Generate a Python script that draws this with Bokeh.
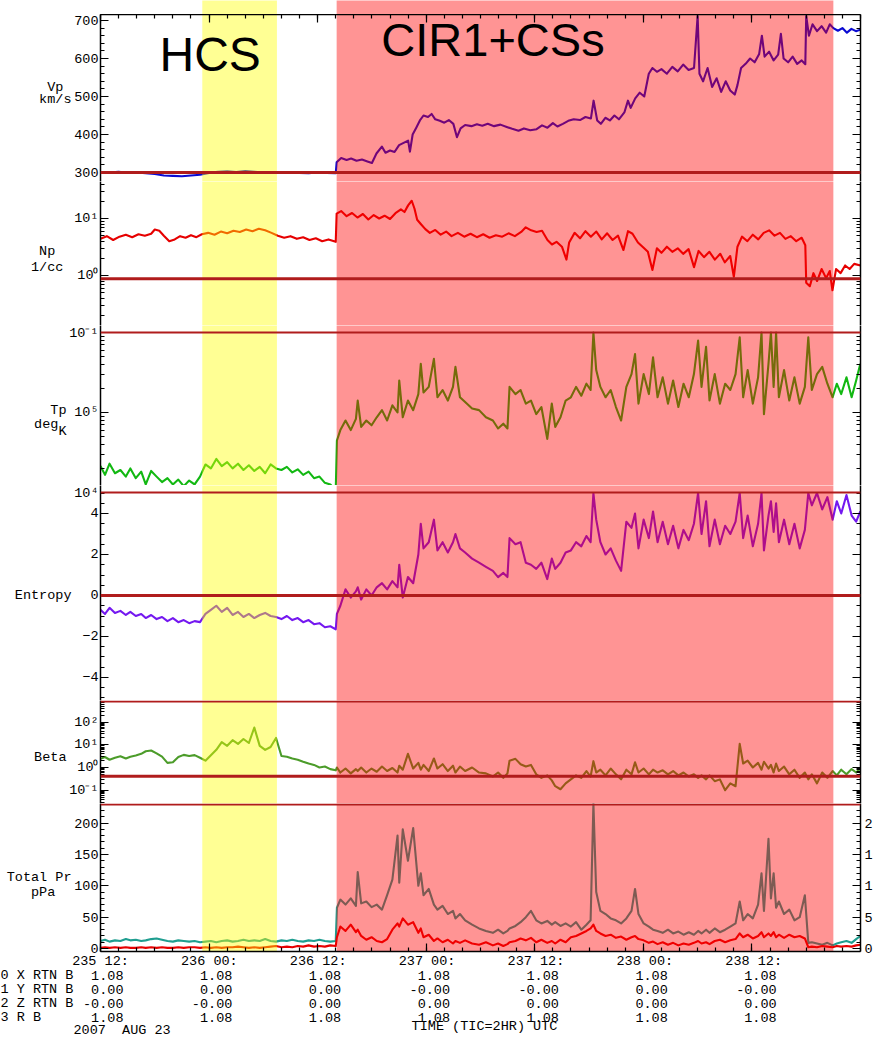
import math
from bokeh.plotting import figure
from bokeh.layouts import column
from bokeh.models import (Range1d, FixedTicker, LinearAxis, LogAxis, Span, Label,
                          ColumnDataSource, BasicTickFormatter, CustomJSTickFormatter, AllLabels)
from bokeh.embed import file_html
from bokeh.resources import INLINE

# ======================= DATA =======================
# time axis: hours after 2007 day-of-year 235 12:00 UT
x_start, x_end = 0.0, 84.0
x_major = [0, 12, 24, 36, 48, 60, 72]
x_major_labels = ["235 12:", "236 00:", "236 12:", "237 00:", "237 12:", "238 00:", "238 12:"]
x_minor = list(range(0, 86, 2))

region_names = ["HCS", "CIR1+CSs"]
region_start = [11.25, 26.1]
region_end = [19.5, 81.0]
region_color = ["#ffff00", "#ff0000"]

# Vp (km/s)
vp_pts = [(0,301),(1,300),(2,302),(3,299),(4,300),(5,298),(6,296),(7,292),(8,291),(9,290),(10,292),(11,294),
(12,299),(13,302),(14,303),(15,301),(16,304),(17,302),(18,300),(19,299),(20,300),(21,301),(22,299),(23,298),
(24,300),(25,299),(26,298),(26.1,327),(26.6,338),(27.2,333),(27.7,337),(28.3,331),(28.9,334),(29.5,329),
(30.0,325),(30.5,350),(31.1,368),(31.5,352),(32.0,358),(32.5,354),(33.0,372),(33.5,378),(34.0,384),(34.2,355),
(34.5,400),(34.9,418),(35.3,437),(35.7,450),(36.2,446),(36.6,454),(37.0,440),(37.5,436),(38.0,431),(38.5,438),
(39.0,428),(39.4,393),(39.8,416),(40.3,425),(41.0,422),(41.6,427),(42.2,423),(42.8,428),(43.5,422),(44.2,426),
(44.9,420),(45.5,415),(46.2,410),(46.8,416),(47.5,411),(48.2,414),(48.8,424),(49.4,418),(50.0,430),(50.5,421),
(51.1,428),(51.7,436),(52.3,440),(53.0,438),(53.6,446),(54.2,442),(54.5,489),(54.9,437),(55.3,428),(55.8,444),
(56.3,437),(56.8,450),(57.3,440),(57.9,458),(58.3,489),(58.6,470),(59.1,495),(59.6,510),(60.1,500),(60.6,560),
(61.0,575),(61.5,565),(62.0,572),(62.6,560),(63.2,578),(63.8,566),(64.4,584),(65.0,570),(65.6,575),(66.0,712),
(66.2,560),(66.6,540),(67.1,575),(67.6,525),(68.1,548),(68.6,512),(69.1,540),(69.6,516),(70.1,505),(70.4,530),
(70.8,575),(71.3,586),(71.8,600),(72.3,590),(72.8,612),(73.1,660),(73.4,605),(73.9,618),(74.4,595),(74.9,610),
(75.2,665),(75.5,600),(76.0,590),(76.5,605),(77.0,586),(77.5,595),(77.9,585),(78.0,712),(78.3,660),(78.7,690),
(79.2,672),(79.7,685),(80.2,668),(80.6,690),(81.0,680),(81.5,673),(82.0,680),(82.5,668),(83.0,678),(83.5,672),
(84.0,676)]

# Np (1/cc)
np_pts = [(0,4.4),(0.7,4.9),(1.4,4.2),(2.1,4.8),(2.8,5.2),(3.5,4.7),(4.2,5.3),(4.9,5.0),(5.6,5.4),(6.0,6.4),
(6.5,6.1),(7.0,5.0),(7.6,4.0),(8.2,4.3),(8.8,4.9),(9.4,4.6),(10.0,5.1),(10.6,4.7),(11.2,5.3),(11.9,5.6),
(12.6,5.2),(13.3,5.9),(14.0,5.5),(14.7,6.1),(15.4,5.8),(16.1,6.4),(16.8,6.0),(17.5,6.6),(18.2,6.2),(18.9,5.6),
(19.6,5.0),(20.3,4.6),(21.0,4.9),(21.7,4.4),(22.4,4.7),(23.1,4.2),(23.8,4.5),(24.5,4.0),(25.2,4.3),(26.0,3.9),
(26.1,12.2),(26.6,13.5),(27.2,11.0),(27.8,12.5),(28.4,10.4),(29.0,12.0),(29.6,9.6),(30.2,11.5),(30.8,10.0),
(31.4,11.2),(32.0,9.8),(32.6,12.4),(33.2,14.5),(33.6,13.0),(34.0,17.0),(34.4,20.5),(34.7,15.0),(35.0,9.5),
(35.4,8.0),(35.9,6.5),(36.4,5.6),(37.0,6.3),(37.6,5.2),(38.2,5.9),(38.8,4.9),(39.5,5.6),(40.2,4.8),(40.9,5.4),
(41.6,4.7),(42.3,5.3),(43.0,4.6),(43.7,5.1),(44.4,4.8),(45.1,5.5),(45.8,4.9),(46.5,5.8),(47.0,7.0),(47.6,6.2),
(48.2,5.8),(48.8,6.1),(49.4,4.2),(49.9,3.5),(50.4,3.9),(51.0,3.2),(51.5,1.9),(51.8,3.8),(52.4,5.6),(53.0,4.5),
(53.6,6.0),(54.2,4.8),(54.8,5.9),(55.4,4.3),(56.0,5.5),(56.6,4.2),(57.2,5.0),(57.8,2.8),(58.3,6.0),(58.8,5.4),
(59.4,3.8),(60.0,3.1),(60.5,2.6),(61.0,1.25),(61.5,3.0),(62.0,2.5),(62.6,3.2),(63.2,2.6),(63.8,3.0),(64.4,2.4),
(65.0,2.9),(65.6,1.4),(66.1,2.7),(66.7,2.1),(67.3,2.6),(67.9,1.9),(68.5,2.4),(69.0,1.7),(69.6,2.2),(70.0,0.95),
(70.4,3.2),(70.9,4.8),(71.5,4.0),(72.1,5.2),(72.7,4.3),(73.3,5.6),(73.9,6.2),(74.5,5.0),(75.1,5.6),(75.7,4.4),
(76.3,4.9),(76.9,4.0),(77.5,4.6),(77.9,3.4),(78.0,0.75),(78.4,0.65),(78.8,1.1),(79.2,0.8),(79.7,1.3),(80.2,0.9),
(80.6,1.2),(80.9,0.55),(81.3,1.3),(81.8,1.1),(82.3,1.5),(82.8,1.3),(83.3,1.6),(84.0,1.5)]

# shared sample times for Tp, Entropy, Beta and pressures
t_pre = [0, 0.5, 1.0, 1.6, 2.2, 2.8, 3.3, 3.9, 4.5, 5.0, 5.6, 6.2, 6.8, 7.4, 8.0, 8.6, 9.2, 9.8, 10.4, 11.0,
         11.6, 12.2, 12.8, 13.4, 14.0, 14.6, 15.2, 15.8, 16.4, 17.0, 17.6, 18.2, 18.8, 19.4, 20.0, 20.6, 21.2,
         21.8, 22.4, 23.0, 23.6, 24.2, 24.8, 25.4, 26.0]
t_cir = [26.13, 26.51, 27.08, 27.66, 28.23, 28.43, 28.81, 29.38, 29.96, 30.53, 31.11, 31.68, 32.26, 32.83,
         33.02, 33.41, 33.98, 34.56, 35.13, 35.40, 35.70, 36.28, 36.85, 37.24, 37.81, 38.39, 38.96, 39.23,
         39.73, 40.30, 41.07, 41.84, 42.60, 43.37, 43.94, 44.52, 44.98, 45.21, 45.86, 46.43, 47.01, 47.58,
         48.16, 48.73, 49.38, 49.88, 50.26, 50.84, 51.41, 51.99, 52.56, 53.14, 53.71, 54.17, 54.48, 54.79,
         55.25, 55.82, 56.39, 56.97, 57.54, 58.12, 58.69, 59.08, 59.46, 60.03, 60.61, 61.07, 61.57, 62.14,
         62.72, 63.29, 63.87, 64.44, 65.02, 65.59, 66.05, 66.43, 66.93, 67.31, 67.89, 68.46, 69.04, 69.61,
         70.19, 70.65, 71.03, 71.53, 72.10, 72.68, 73.06, 73.33, 73.83, 74.10, 74.40, 74.67, 74.98, 75.55,
         76.13, 76.70, 77.28, 77.85, 78.23, 78.62, 79.19, 79.77, 80.34, 80.92, 81.38, 81.87, 82.45, 83.02,
         83.52, 83.98]

# Tp (K)
tp_pre = [21400, 16600, 22900, 17400, 19100, 15800, 20000, 15100, 18200, 12600, 18600, 15800, 13500, 15100,
          12600, 14500, 12000, 14100, 12600, 15800, 22400, 20000, 26300, 21400, 24000, 20000, 22900, 19100,
          21900, 18600, 20900, 17400, 22400, 20000, 19100, 20900, 17800, 19500, 16600, 18200, 15100, 15800,
          13200, 12600, 10700]
tp_cir = [44700, 60300, 79400, 60300, 83200, 141000, 66100, 79400, 69200, 87100, 107000, 79400, 123000,
          100000, 251000, 87100, 141000, 107000, 170000, 407000, 178000, 209000, 468000, 155000, 191000,
          141000, 209000, 372000, 155000, 135000, 112000, 107000, 87100, 79400, 63100, 72400, 63100, 209000,
          170000, 191000, 129000, 141000, 95500, 117000, 46800, 129000, 66100, 87100, 141000, 155000, 209000,
          162000, 229000, 191000, 1000000, 339000, 209000, 155000, 191000, 117000, 79400, 209000, 302000,
          537000, 129000, 302000, 170000, 490000, 155000, 275000, 129000, 251000, 117000, 229000, 155000,
          302000, 794000, 209000, 661000, 141000, 302000, 129000, 229000, 191000, 302000, 871000, 155000,
          339000, 129000, 275000, 1000000, 95500, 407000, 1000000, 209000, 1000000, 155000, 339000, 141000,
          275000, 129000, 209000, 871000, 191000, 302000, 372000, 229000, 155000, 229000, 170000, 275000,
          155000, 251000, 407000]

# Entropy
s_pre = [-0.7, -0.9, -0.6, -0.85, -0.75, -0.95, -0.8, -1.0, -0.9, -1.1, -0.95, -1.15, -1.05, -1.25, -1.1,
         -1.3, -1.2, -1.35, -1.25, -1.3, -0.9, -0.7, -0.5, -0.8, -0.6, -0.95, -0.8, -1.05, -0.9, -1.1, -0.95,
         -0.85, -1.0, -1.05, -1.15, -1.0, -1.2, -1.1, -1.3, -1.2, -1.4, -1.35, -1.55, -1.5, -1.65]
s_cir = [-0.9, -0.5, 0.3, -0.1, 0.2, 0.4, -0.2, 0.3, 0.0, 0.4, 0.6, 0.3, 0.7, 0.4, 1.5, -0.1, 0.9, 0.6, 2.0,
         3.5, 2.3, 2.6, 3.7, 2.2, 2.6, 2.1, 2.6, 3.0, 2.3, 2.1, 1.8, 1.6, 1.4, 1.2, 0.9, 1.1, 0.9, 2.8, 2.5,
         2.6, 1.6, 1.5, 1.3, 1.6, 0.8, 1.8, 1.3, 1.6, 2.1, 2.2, 2.6, 2.4, 2.9, 2.6, 5.0, 3.7, 2.6, 2.0, 2.3,
         1.7, 1.2, 3.6, 3.3, 4.0, 2.3, 3.7, 2.8, 4.1, 2.6, 3.6, 2.5, 3.4, 2.3, 3.2, 2.7, 3.5, 5.0, 3.0, 4.6,
         2.4, 3.7, 2.5, 3.4, 3.0, 3.6, 5.0, 2.8, 3.9, 2.4, 3.5, 5.0, 2.2, 3.9, 4.6, 3.1, 4.5, 2.6, 3.7, 2.5,
         3.5, 2.3, 3.2, 5.0, 4.4, 5.0, 4.2, 4.8, 3.7, 4.6, 4.0, 4.9, 3.9, 3.6, 4.1]

# Beta
beta_pre = [2.4, 2.9, 2.2, 2.7, 3.1, 2.5, 3.0, 3.4, 4.0, 5.2, 5.6, 4.2, 3.0, 1.6, 1.7, 2.9, 3.6, 3.2, 3.5,
            2.7, 2.0, 3.5, 6.0, 13, 9, 16, 11, 18, 12, 58, 9, 6, 8, 20, 3.2, 3.0, 2.5, 2.2, 1.8, 1.5, 1.3,
            1.0, 1.1, 0.85, 0.75]
beta_cir = [1.0, 0.6, 0.9, 0.55, 0.85, 0.7, 1.0, 0.6, 0.9, 0.65, 1.1, 0.7, 0.95, 0.6, 1.2, 0.8, 4.0, 0.9,
            1.6, 0.8, 1.3, 0.7, 2.5, 0.9, 1.4, 0.7, 1.2, 0.6, 1.1, 0.7, 1.0, 0.6, 0.55, 0.4, 0.6, 0.35,
            0.55, 2.0, 2.4, 1.4, 1.1, 1.3, 0.5, 0.35, 0.45, 0.27, 0.15, 0.11, 0.2, 0.3, 0.45, 0.35, 0.7,
            0.4, 1.9, 0.6, 0.8, 0.45, 0.9, 0.5, 0.3, 0.8, 0.5, 1.7, 0.6, 0.9, 0.5, 0.8, 0.6, 0.75, 0.5, 0.7,
            0.45, 0.6, 0.4, 0.5, 0.35, 0.45, 0.3, 0.45, 0.25, 0.3, 0.1, 0.2, 0.15, 11, 1.5, 2.0, 1.0, 1.6,
            0.8, 1.8, 0.9, 1.3, 0.6, 1.5, 0.7, 1.1, 0.5, 0.8, 0.35, 0.6, 0.3, 0.5, 0.2, 0.6, 0.35, 0.7,
            0.45, 0.8, 0.5, 0.85, 0.6, 0.9]

# Total pressure (pPa) and the second (red) pressure trace
ptot_pre = [12, 14, 11, 13, 12, 15, 13, 14, 12, 13, 15, 16, 14, 12, 11, 13, 12, 11, 12, 10, 11, 12, 10, 12,
            13, 11, 12, 14, 12, 13, 12, 15, 12, 11, 13, 12, 14, 12, 11, 13, 12, 14, 12, 11, 12]
ptot_cir = [65, 78, 70, 80, 68, 122, 72, 75, 66, 70, 62, 85, 110, 180, 105, 190, 140, 192, 100, 120, 85, 95,
            70, 62, 68, 55, 60, 48, 55, 45, 38, 32, 28, 25, 30, 24, 28, 32, 36, 42, 50, 60, 45, 40, 44, 38,
            42, 36, 40, 35, 42, 30, 38, 45, 231, 90, 60, 55, 48, 45, 40, 48, 60, 95, 55, 40, 35, 30, 28, 25,
            30, 24, 27, 22, 26, 22, 28, 24, 30, 25, 32, 26, 30, 35, 40, 75, 45, 55, 48, 70, 120, 60, 175, 80,
            120, 65, 75, 55, 62, 45, 50, 85, 9, 10, 8, 6, 9, 5, 8, 10, 12, 9, 15, 20]
ppl_pre = [1, 2, 1, 2, 1, 2, 1, 1, 2, 1, 2, 1, 2, 1, 1, 2, 1, 2, 2, 1, 2, 1, 2, 1, 2, 2, 3, 2, 1, 2, 1, 2,
           3, 4, 2, 3, 2, 4, 3, 5, 3, 4, 3, 5, 4]
ppl_cir = [18, 35, 28, 38, 26, 30, 20, 14, 18, 12, 10, 15, 30, 40, 35, 48, 38, 42, 25, 32, 18, 22, 12, 16,
           10, 14, 8, 12, 9, 13, 8, 6, 10, 5, 8, 4, 7, 10, 12, 16, 13, 17, 10, 14, 9, 12, 8, 14, 10, 18, 20,
           24, 28, 32, 38, 28, 24, 20, 22, 17, 19, 14, 18, 20, 15, 13, 9, 11, 7, 10, 6, 9, 5, 8, 6, 9, 12, 8,
           10, 7, 12, 14, 10, 13, 15, 24, 18, 22, 16, 20, 26, 18, 24, 20, 26, 18, 22, 17, 22, 18, 20, 16, 2,
           3, 2, 4, 3, 2, 4, 3, 4, 3, 5, 6]

# reference lines
vp_ref, np_ref, s_ref, beta_ref = 300, 0.88, 0.0, 0.41

# text block under the time axis
coord_rows = ["0 X RTN B", "1 Y RTN B", "2 Z RTN B", "3 R B"]
coord_vals = [["1.08"] * 7,
              ["0.00", "0.00", "0.00", "-0.00", "-0.00", "0.00", "-0.00"],
              ["-0.00", "-0.00", "0.00", "0.00", "0.00", "0.00", "0.00"],
              ["1.08"] * 7]
date_text = "2007  AUG 23"
time_title = "TIME (TIC=2HR) UTC"

for a, b in [(t_pre, tp_pre), (t_pre, s_pre), (t_pre, beta_pre), (t_pre, ptot_pre), (t_pre, ppl_pre),
             (t_cir, tp_cir), (t_cir, s_cir), (t_cir, beta_cir), (t_cir, ptot_cir), (t_cir, ppl_cir)]:
    assert len(a) == len(b), (len(a), len(b))

# ======================= LAYOUT =======================
W, H = 875, 1038
L_PX, R_PX = 100, 862
PXH = (R_PX - L_PX) / (x_end - x_start)
BL = L_PX
BR = W - R_PX
MONO = "Liberation Mono"
FS = "13.5px"
NB = "\u00a0"
LW = 2.1

VP_C, NP_C, TP_C, S_C = "#0a0ad2", "#e60000", "#12b812", "#7418f0"
B_C, PT_C, PR_C, REF_C = "#4c9c2a", "#1f9e90", "#e60000", "#b01c1c"

xr = Range1d(x_start, x_end)


def hx(px):
    return x_start + (px - L_PX) / PXH


# pixel extent of every panel and the value range it covers
P_VP = dict(top=14, bot=181, lo=276.3, hi=715.8, log=False)
P_NP = dict(top=181, bot=325, lo=0.1327, hi=44.6, log=True)
P_TP = dict(top=325, bot=485, lo=12230.0, hi=1.223e6, log=True)
P_S = dict(top=485, bot=700, lo=-5.122, hi=5.366, log=False)
P_B = dict(top=700, bot=803, lo=0.02594, hi=895.0, log=True)
P_PT = dict(top=803, bot=951, lo=-4.78, hi=231.3, log=False)
PT_PAD = 3   # blank strip under the pressure panel


def val(P, py):
    f = (P["bot"] - py) / (P["bot"] - P["top"])
    if P["log"]:
        a, b = math.log10(P["lo"]), math.log10(P["hi"])
        return 10 ** (a + f * (b - a))
    return P["lo"] + f * (P["hi"] - P["lo"])


def style_axis(ax, show):
    ax.axis_line_color = "black"
    ax.axis_line_width = 1.5
    ax.major_tick_line_color = "black"
    ax.minor_tick_line_color = "black"
    ax.major_tick_line_width = 1.2
    ax.minor_tick_line_width = 1.2
    ax.major_tick_in = 8
    ax.major_tick_out = 0
    ax.minor_tick_in = 4
    ax.minor_tick_out = 0
    ax.major_label_text_font = MONO
    ax.major_label_text_color = "black"
    ax.major_label_text_font_size = FS
    ax.major_label_standoff = 2 if show else 0
    ax.major_label_policy = AllLabels()
    ax.axis_label = None
    if not show:
        ax.formatter = CustomJSTickFormatter(code="return ''")


def make_fig(height, yr, log=False, xloc=None, yloc="left", bb=0):
    p = figure(width=W, height=height, x_range=xr, y_range=yr, title=None,
               y_axis_type="log" if log else "linear",
               x_axis_location=xloc, y_axis_location=yloc,
               output_backend="svg", toolbar_location=None,
               min_border_left=BL, min_border_right=BR, min_border_top=0, min_border_bottom=bb)
    p.outline_line_color = None
    p.xgrid.visible = False
    p.ygrid.visible = False
    p.background_fill_color = "white"
    p.border_fill_color = "white"
    return p


def panel(P, major, minor, overrides=None, xloc=None, right_labels=None, bb=0):
    p = make_fig(P["bot"] - P["top"] + bb, Range1d(P["lo"], P["hi"]), P["log"], xloc=xloc, bb=bb)
    ax = p.yaxis[0]
    ax.ticker = FixedTicker(ticks=major, minor_ticks=minor)
    ax.formatter = BasicTickFormatter()
    style_axis(ax, True)
    if overrides:
        ax.major_label_overrides = overrides
    cls = LogAxis if P["log"] else LinearAxis
    r = cls(ticker=FixedTicker(ticks=major, minor_ticks=minor))
    style_axis(r, False)
    if right_labels:
        r.major_label_overrides = right_labels
        r.major_label_standoff = 4
    p.add_layout(r, "right")
    if xloc is not None:
        xa = p.xaxis[0]
        xa.ticker = FixedTicker(ticks=x_major, minor_ticks=x_minor)
        style_axis(xa, False)
        xa.major_label_text_font_size = "0px"
    return p


def titles(p, P, items):
    """Panel title written as a second, tick-less left axis."""
    ticks = [val(P, py) for py, _ in items]
    cls = LogAxis if P["log"] else LinearAxis
    ax = cls(ticker=FixedTicker(ticks=ticks, minor_ticks=[]), formatter=BasicTickFormatter())
    ax.major_label_overrides = {t: s for t, (_, s) in zip(ticks, items)}
    ax.axis_line_color = None
    ax.major_tick_line_color = None
    ax.minor_tick_line_color = None
    ax.major_tick_in = 0
    ax.major_tick_out = 0
    ax.minor_tick_in = 0
    ax.minor_tick_out = 0
    ax.major_label_standoff = 0
    ax.major_label_text_font = MONO
    ax.major_label_text_font_size = FS
    ax.major_label_text_color = "black"
    ax.major_label_policy = AllLabels()
    p.add_layout(ax, "left")


def shade(p, P):
    if P["log"]:
        lo, hi = P["lo"] / 10, P["hi"] * 10
    else:
        lo, hi = P["lo"] - 1000, P["hi"] + 1000
    src = ColumnDataSource(dict(left=region_start, right=region_end, color=region_color))
    p.quad(left="left", right="right", bottom=lo, top=hi, fill_color="color",
           fill_alpha=0.42, line_color=None, source=src)


def span(p, loc, w):
    p.add_layout(Span(location=loc, dimension="width", line_color=REF_C, line_width=w))


def line(p, t, v, color):
    p.line(list(t), list(v), line_color=color, line_width=LW, line_join="round")


def txt(p, x, y, text, align="center", size=FS, font=MONO):
    p.add_layout(Label(x=x, y=y, text=text.replace(" ", NB), text_font=font, text_font_size=size,
                       text_align=align, text_baseline="middle", text_color="black"))


# --- top strip (shading above the top axis) ---
strip = make_fig(P_VP["top"], Range1d(0, 1), xloc=None, yloc=None)
shade(strip, dict(lo=0, hi=1, log=False))

# --- Vp ---
f_vp = panel(P_VP, [300, 400, 500, 600, 700], list(range(300, 720, 20)), xloc="above")
vt, vv = zip(*vp_pts)
line(f_vp, vt, vv, VP_C)
shade(f_vp, P_VP)
span(f_vp, vp_ref, 3)
titles(f_vp, P_VP, [(87, "Vp" + NB), (99, "km/s")])
f_vp.add_layout(Label(x=hx(210), y=val(P_VP, 54), text=region_names[0], text_font="Liberation Sans",
                      text_font_size="48px", text_align="center", text_baseline="middle", text_color="black"))
f_vp.add_layout(Label(x=hx(493.5), y=val(P_VP, 39), text=region_names[1], text_font="Liberation Sans",
                      text_font_size="47px", text_align="center", text_baseline="middle", text_color="black"))

# --- Np ---
dec_minor = lambda ds: [m * d for d in ds for m in range(2, 10)]
f_np = panel(P_NP, [1.0, 10.0], dec_minor([0.1, 1.0, 10.0]),
             overrides={1.0: "10\u2070", 10.0: "10\u00b9"})
nt, nv = zip(*np_pts)
line(f_np, nt, nv, NP_C)
shade(f_np, P_NP)
span(f_np, np_ref, 3)
titles(f_np, P_NP, [(251, "Np" + NB + NB), (267, "1/cc" + NB)])

# --- Tp ---
f_tp = panel(P_TP, [1e5, 1e6], dec_minor([1e4, 1e5]),
             overrides={1e5: "10\u2075", 1e6: "10\u207b\u00b9"})
line(f_tp, t_pre + t_cir, tp_pre + tp_cir, TP_C)
shade(f_tp, P_TP)
span(f_tp, val(P_TP, 332), 2)
titles(f_tp, P_TP, [(410, "Tp"), (424, "deg" + NB), (431, "K")])

# --- Entropy ---
s_top_tick = val(P_S, 492)
f_s = panel(P_S, [-4, -2, 0, 2, 4, s_top_tick], [i * 0.5 for i in range(-10, 11)],
            overrides={s_top_tick: "10\u2074"})
line(f_s, t_pre + t_cir, s_pre + s_cir, S_C)
shade(f_s, P_S)
span(f_s, s_top_tick, 2)
span(f_s, s_ref, 3)
titles(f_s, P_S, [(595, "Entropy")])

# --- Beta ---
f_b = panel(P_B, [0.1, 1.0, 10.0, 100.0], dec_minor([0.01, 0.1, 1.0, 10.0, 100.0]),
            overrides={0.1: "10\u207b\u00b9", 1.0: "10\u2070", 10.0: "10\u00b9", 100.0: "10\u00b2"})
line(f_b, t_pre + t_cir, beta_pre + beta_cir, B_C)
shade(f_b, P_B)
span(f_b, val(P_B, 701), 2)
span(f_b, beta_ref, 3)
titles(f_b, P_B, [(757, "Beta")])

# --- Total pressure ---
pt_major = [0, 50, 100, 150, 200]
f_pt = panel(P_PT, pt_major, list(range(0, 240, 10)), xloc="below",
             right_labels={v: str(v)[0] for v in pt_major}, bb=PT_PAD)
line(f_pt, t_pre + t_cir, ptot_pre + ptot_cir, PT_C)
line(f_pt, t_pre + t_cir, ppl_pre + ppl_cir, PR_C)
shade(f_pt, P_PT)
span(f_pt, val(P_PT, 804), 2)
titles(f_pt, P_PT, [(877, "Total Pr"), (892, "pPa" + NB + NB)])

# --- time labels and coordinate rows under the plot (own full-width frame) ---
txt_top = P_PT["bot"] + PT_PAD
f_txt = figure(width=W, height=H - txt_top, x_range=Range1d(hx(0), hx(W)), title=None,
               y_range=Range1d(H, txt_top), output_backend="svg", toolbar_location=None,
               x_axis_location=None, y_axis_location=None, min_border=0)
try:
    f_txt.frame_align = False
except Exception:
    pass
f_txt.outline_line_color = None
f_txt.xgrid.visible = False
f_txt.ygrid.visible = False
f_txt.background_fill_color = "white"
f_txt.border_fill_color = "white"
for j, tk in enumerate(x_major):
    txt(f_txt, tk, 961, x_major_labels[j])
for i, row in enumerate(coord_rows):
    yy = 975 + 14 * i
    txt(f_txt, hx(0), yy, row, align="left")
    for j, tk in enumerate(x_major):
        txt(f_txt, tk + 23 / PXH, yy, coord_vals[i][j], align="right")
txt(f_txt, hx(73), 1030, date_text, align="left")
txt(f_txt, hx(484), 1026, time_title)

layout = column(strip, f_vp, f_np, f_tp, f_s, f_b, f_pt, f_txt, spacing=0)
open("out.html", "w").write(file_html(layout, INLINE))
